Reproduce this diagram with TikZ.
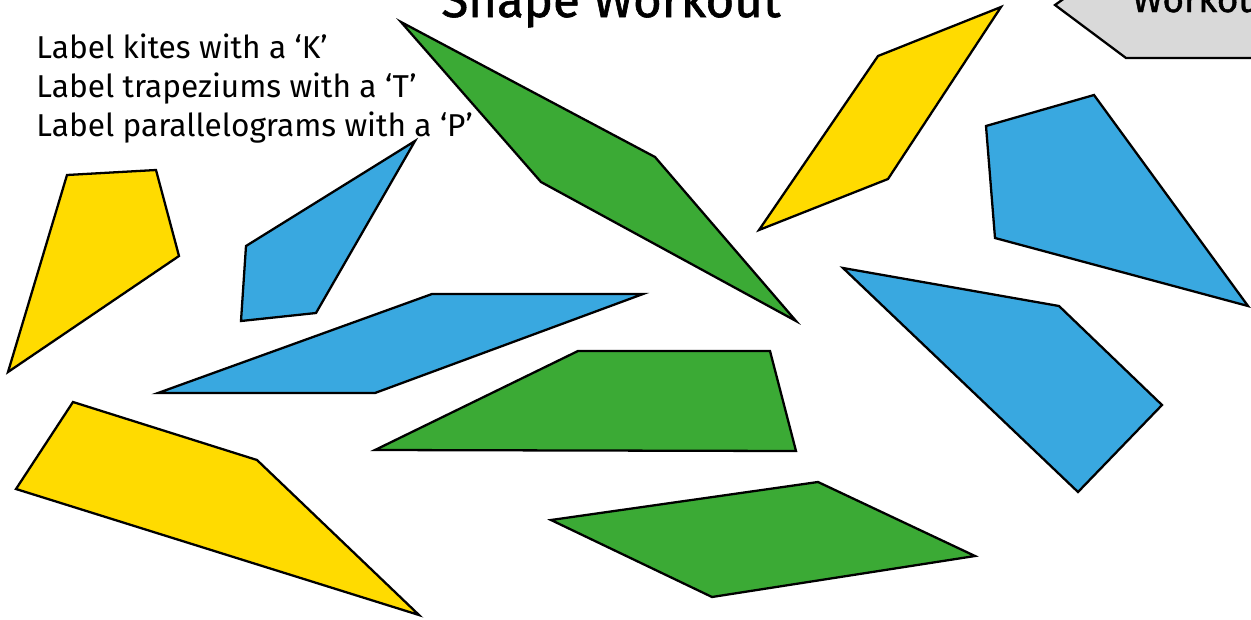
\documentclass[tikz,border=0pt]{standalone}
\usepackage{fontspec}
\setmainfont{Fira Sans}
\newfontfamily\headfont[FakeBold=1.2]{Fira Sans}
\usetikzlibrary{positioning}

\definecolor{shapeyellow}{HTML}{FFDB00}
\definecolor{shapeblue}{HTML}{39A8E0}
\definecolor{shapegreen}{HTML}{3BAA35}
\definecolor{tabgray}{HTML}{D9D9D9}

\begin{document}
\begin{tikzpicture}[
  x=0.02cm, y=-0.02cm,
  piece/.style={draw=black, line width=1.3pt, line join=miter},
  yellowpiece/.style={piece, fill=shapeyellow},
  bluepiece/.style={piece, fill=shapeblue},
  greenpiece/.style={piece, fill=shapegreen},
  tabbox/.style={draw=black, line width=1.3pt, fill=tabgray},
  task/.style={anchor=base west, inner sep=0pt, font=\fontsize{18}{21}\selectfont},
  heading/.style={anchor=base, inner sep=0pt, font=\headfont\fontsize{28}{31}\selectfont}
]
\useasboundingbox (0,0) rectangle (1251,619);
\clip (0,0) rectangle (1251,619);

% title and tab
\node[heading] (title) at (611,17) {Shape Workout};
\draw[tabbox] (1090,-20) -- (1055,5) -- (1126,58) -- (1270,58) -- (1270,-20);
\node[heading, anchor=base west, font=\headfont\fontsize{21}{24}\selectfont] (tab) at (1132,12) {Workout};

% instructions
\node[task] (kites) at (36,58) {Label kites with a ‘K’};
\node[task] (trap) at (36,97) {Label trapeziums with a ‘T’};
\node[task] (para) at (36,136) {Label parallelograms with a ‘P’};

% yellow pieces
\draw[yellowpiece] (67,175) -- (156,170) -- (179,256) -- (8,372) -- cycle;
\draw[yellowpiece] (878,56) -- (1001,7) -- (888,179) -- (759,230) -- cycle;
\draw[yellowpiece] (73,402) -- (257,460) -- (419,615) -- (16,489) -- cycle;

% blue pieces
\draw[bluepiece] (246,246) -- (415,141) -- (316,313) -- (241,321) -- cycle;
\draw[bluepiece] (986,126) -- (1094,95) -- (1248,306) -- (995,238) -- cycle;
\draw[bluepiece] (432,294) -- (643,294) -- (375,393) -- (158,393) -- cycle;
\draw[bluepiece] (843,268) -- (1059,306) -- (1162,405) -- (1078,492) -- cycle;

% green pieces
\draw[greenpiece] (401,22) -- (655,157) -- (796,321) -- (541,182) -- cycle;
\draw[greenpiece] (578,351) -- (770,351) -- (796,451) -- (375,450) -- cycle;
\draw[greenpiece] (551,520) -- (818,482) -- (975,556) -- (712,597) -- cycle;
\end{tikzpicture}
\end{document}
